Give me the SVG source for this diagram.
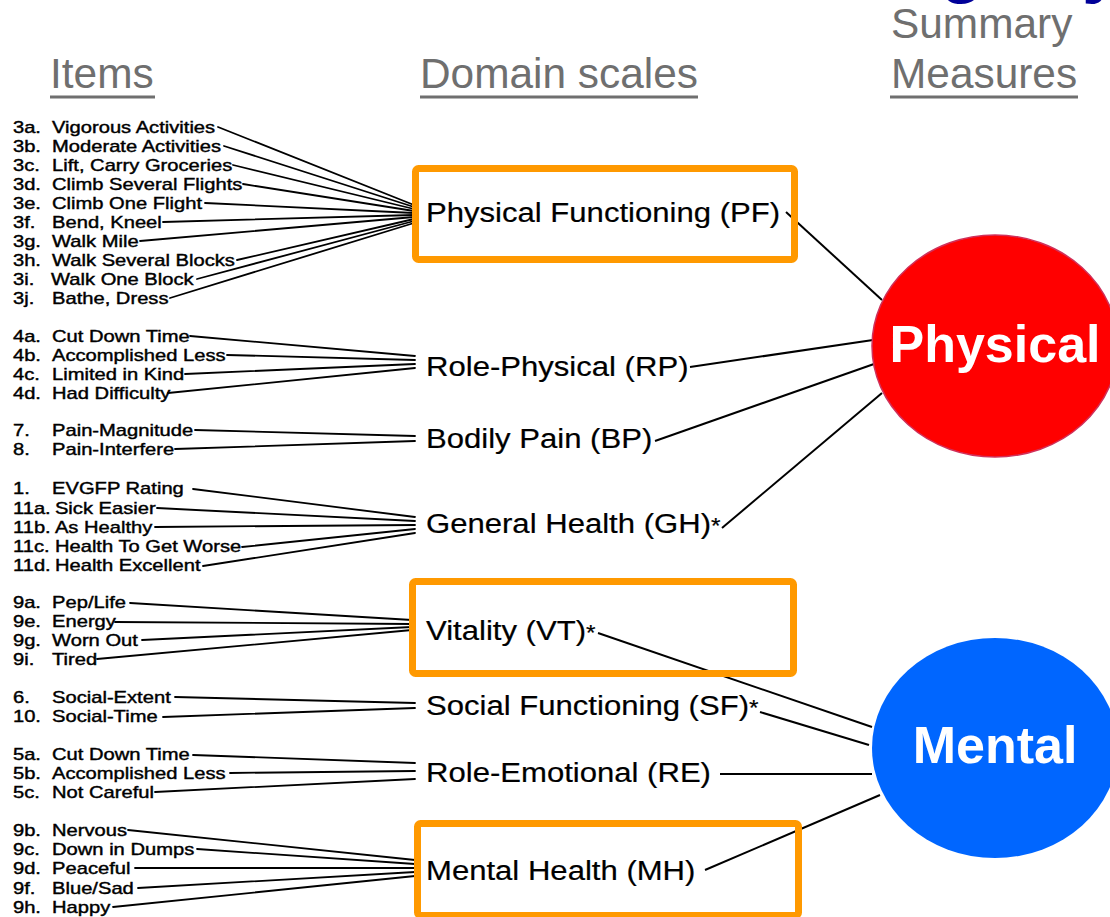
<svg xmlns="http://www.w3.org/2000/svg" width="1110" height="917" viewBox="0 0 1110 917">
<style>
.hdr{font-family:"Liberation Sans",Arial,sans-serif;font-size:42.4px;fill:#6f6f6f}
.ul{stroke:#6f6f6f;stroke-width:3}
.it{font-family:"Liberation Sans",Arial,sans-serif;font-size:16px;fill:#000;stroke:#000;stroke-width:0.4}
.dom{font-family:"Liberation Sans",Arial,sans-serif;font-size:28px;fill:#000;stroke:#000;stroke-width:0.2}
.box{fill:none;stroke:#ff9900;stroke-width:7}
.ln{stroke:#000;stroke-width:1.8;fill:none;stroke-linecap:round}
.lk{stroke:#000;stroke-width:2;fill:none}
.big{font-family:"Liberation Sans",Arial,sans-serif;font-size:52px;font-weight:bold;fill:#fff;text-anchor:middle}
.ttl{font-family:"Liberation Sans",Arial,sans-serif;font-size:72px;font-weight:bold;fill:#000099}
</style>
<rect width="1110" height="917" fill="#fff"/>
<g id="title-fragment">
<text class="ttl" x="940" y="-11">g</text>
<text class="ttl" x="1082" y="-11">y</text>
</g>
<g id="headers">
<text class="hdr" x="50" y="88">Items</text>
<line class="ul" x1="50" y1="97" x2="155" y2="97"/>
<text class="hdr" x="420" y="88">Domain scales</text>
<line class="ul" x1="420" y1="97" x2="698" y2="97"/>
<text class="hdr" x="891" y="38">Summary</text>
<text class="hdr" x="891" y="88">Measures</text>
<line class="ul" x1="890" y1="97" x2="1078" y2="97"/>
</g>
<g id="connectors">
<line class="ln" x1="218" y1="127" x2="414" y2="205"/>
<line class="ln" x1="224" y1="146" x2="414" y2="207"/>
<line class="ln" x1="233" y1="165" x2="414" y2="209"/>
<line class="ln" x1="243" y1="184" x2="414" y2="211"/>
<line class="ln" x1="205" y1="203" x2="414" y2="213"/>
<line class="ln" x1="163" y1="222" x2="414" y2="215"/>
<line class="ln" x1="140" y1="241" x2="414" y2="217"/>
<line class="ln" x1="237" y1="260" x2="414" y2="219"/>
<line class="ln" x1="197" y1="279" x2="414" y2="221"/>
<line class="ln" x1="170" y1="298" x2="414" y2="223"/>
<line class="ln" x1="190" y1="336" x2="415" y2="356"/>
<line class="ln" x1="227" y1="355" x2="415" y2="360"/>
<line class="ln" x1="185" y1="374" x2="415" y2="364"/>
<line class="ln" x1="168" y1="393" x2="415" y2="368"/>
<line class="ln" x1="195" y1="430" x2="415" y2="436"/>
<line class="ln" x1="175" y1="449" x2="415" y2="441"/>
<line class="ln" x1="193" y1="489" x2="415" y2="517"/>
<line class="ln" x1="157" y1="508" x2="415" y2="521"/>
<line class="ln" x1="155" y1="527" x2="415" y2="525"/>
<line class="ln" x1="242" y1="547" x2="415" y2="529"/>
<line class="ln" x1="203" y1="566" x2="415" y2="533"/>
<line class="ln" x1="130" y1="603" x2="412" y2="620"/>
<line class="ln" x1="115" y1="622" x2="412" y2="624"/>
<line class="ln" x1="142" y1="640" x2="412" y2="627"/>
<line class="ln" x1="97" y1="659" x2="412" y2="630"/>
<line class="ln" x1="175" y1="697" x2="415" y2="703"/>
<line class="ln" x1="163" y1="717" x2="415" y2="708"/>
<line class="ln" x1="193" y1="755" x2="415" y2="763"/>
<line class="ln" x1="230" y1="773" x2="415" y2="771"/>
<line class="ln" x1="155" y1="792" x2="415" y2="779"/>
<line class="ln" x1="128" y1="830" x2="415" y2="860"/>
<line class="ln" x1="197" y1="849" x2="415" y2="864"/>
<line class="ln" x1="135" y1="868" x2="415" y2="868"/>
<line class="ln" x1="138" y1="888" x2="415" y2="872"/>
<line class="ln" x1="113" y1="907" x2="415" y2="876"/>
<line class="lk" x1="786" y1="212" x2="882" y2="300"/>
<line class="lk" x1="690" y1="367" x2="873" y2="340"/>
<line class="lk" x1="655" y1="441" x2="874" y2="364"/>
<line class="lk" x1="722" y1="528" x2="882" y2="393"/>
<line class="lk" x1="598" y1="633" x2="872" y2="727"/>
<line class="lk" x1="760" y1="712" x2="869" y2="745"/>
<line class="lk" x1="720" y1="774" x2="872" y2="774"/>
<line class="lk" x1="705" y1="870" x2="880" y2="795"/>
</g>
<g transform="scale(1.26,1)">
<g id="item-3a"><text class="it" x="10.3" y="133">3a.</text><text class="it" x="41.3" y="133">Vigorous Activities</text></g>
<g id="item-3b"><text class="it" x="10.3" y="152">3b.</text><text class="it" x="41.3" y="152">Moderate Activities</text></g>
<g id="item-3c"><text class="it" x="10.3" y="171">3c.</text><text class="it" x="41.3" y="171">Lift, Carry Groceries</text></g>
<g id="item-3d"><text class="it" x="10.3" y="190">3d.</text><text class="it" x="41.3" y="190">Climb Several Flights</text></g>
<g id="item-3e"><text class="it" x="10.3" y="209">3e.</text><text class="it" x="41.3" y="209">Climb One Flight</text></g>
<g id="item-3f"><text class="it" x="10.3" y="228">3f.</text><text class="it" x="41.3" y="228">Bend, Kneel</text></g>
<g id="item-3g"><text class="it" x="10.3" y="247">3g.</text><text class="it" x="41.3" y="247">Walk Mile</text></g>
<g id="item-3h"><text class="it" x="10.3" y="266">3h.</text><text class="it" x="41.3" y="266">Walk Several Blocks</text></g>
<g id="item-3i"><text class="it" x="10.3" y="285">3i.</text><text class="it" x="40.5" y="285">Walk One Block</text></g>
<g id="item-3j"><text class="it" x="10.3" y="304">3j.</text><text class="it" x="41.3" y="304">Bathe, Dress</text></g>
<g id="item-4a"><text class="it" x="10.3" y="342">4a.</text><text class="it" x="41.3" y="342">Cut Down Time</text></g>
<g id="item-4b"><text class="it" x="10.3" y="361">4b.</text><text class="it" x="41.3" y="361">Accomplished Less</text></g>
<g id="item-4c"><text class="it" x="10.3" y="380">4c.</text><text class="it" x="41.3" y="380">Limited in Kind</text></g>
<g id="item-4d"><text class="it" x="10.3" y="399">4d.</text><text class="it" x="41.3" y="399">Had Difficulty</text></g>
<g id="item-7"><text class="it" x="10.3" y="436">7.</text><text class="it" x="41.3" y="436">Pain-Magnitude</text></g>
<g id="item-8"><text class="it" x="10.3" y="455">8.</text><text class="it" x="41.3" y="455">Pain-Interfere</text></g>
<g id="item-1"><text class="it" x="10.3" y="494">1.</text><text class="it" x="41.3" y="494">EVGFP Rating</text></g>
<g id="item-11a"><text class="it" x="10.3" y="514">11a.</text><text class="it" x="43.6" y="514">Sick Easier</text></g>
<g id="item-11b"><text class="it" x="10.3" y="533">11b.</text><text class="it" x="43.6" y="533">As Healthy</text></g>
<g id="item-11c"><text class="it" x="10.3" y="552">11c.</text><text class="it" x="43.6" y="552">Health To Get Worse</text></g>
<g id="item-11d"><text class="it" x="10.3" y="571">11d.</text><text class="it" x="43.6" y="571">Health Excellent</text></g>
<g id="item-9a"><text class="it" x="10.3" y="608">9a.</text><text class="it" x="41.3" y="608">Pep/Life</text></g>
<g id="item-9e"><text class="it" x="10.3" y="627">9e.</text><text class="it" x="41.3" y="627">Energy</text></g>
<g id="item-9g"><text class="it" x="10.3" y="646">9g.</text><text class="it" x="41.3" y="646">Worn Out</text></g>
<g id="item-9i"><text class="it" x="10.3" y="665">9i.</text><text class="it" x="41.3" y="665">Tired</text></g>
<g id="item-6"><text class="it" x="10.3" y="703">6.</text><text class="it" x="41.3" y="703">Social-Extent</text></g>
<g id="item-10"><text class="it" x="10.3" y="722">10.</text><text class="it" x="41.3" y="722">Social-Time</text></g>
<g id="item-5a"><text class="it" x="10.3" y="760">5a.</text><text class="it" x="41.3" y="760">Cut Down Time</text></g>
<g id="item-5b"><text class="it" x="10.3" y="779">5b.</text><text class="it" x="41.3" y="779">Accomplished Less</text></g>
<g id="item-5c"><text class="it" x="10.3" y="798">5c.</text><text class="it" x="41.3" y="798">Not Careful</text></g>
<g id="item-9b"><text class="it" x="10.3" y="836">9b.</text><text class="it" x="41.3" y="836">Nervous</text></g>
<g id="item-9c"><text class="it" x="10.3" y="855">9c.</text><text class="it" x="41.3" y="855">Down in Dumps</text></g>
<g id="item-9d"><text class="it" x="10.3" y="874">9d.</text><text class="it" x="41.3" y="874">Peaceful</text></g>
<g id="item-9f"><text class="it" x="10.3" y="894">9f.</text><text class="it" x="41.3" y="894">Blue/Sad</text></g>
<g id="item-9h"><text class="it" x="10.3" y="913">9h.</text><text class="it" x="41.3" y="913">Happy</text></g>
</g>
<g id="domain-PF"><rect class="box" x="415.5" y="168.5" width="379" height="91" rx="3"/><text class="dom" transform="translate(426,222) scale(1.11,1)">Physical Functioning (PF)</text></g>
<g id="domain-RP"><text class="dom" transform="translate(426,376) scale(1.11,1)">Role-Physical (RP)</text></g>
<g id="domain-BP"><text class="dom" transform="translate(426,448) scale(1.11,1)">Bodily Pain (BP)</text></g>
<g id="domain-GH"><text class="dom" transform="translate(426,533) scale(1.11,1)">General Health (GH)<tspan font-size="22">*</tspan></text></g>
<g id="domain-VT"><rect class="box" x="412.5" y="581.5" width="381" height="92" rx="3"/><text class="dom" transform="translate(426,640) scale(1.11,1)">Vitality (VT)<tspan font-size="22">*</tspan></text></g>
<g id="domain-SF"><text class="dom" transform="translate(426,715) scale(1.11,1)">Social Functioning (SF)<tspan font-size="22">*</tspan></text></g>
<g id="domain-RE"><text class="dom" transform="translate(426,782) scale(1.11,1)">Role-Emotional (RE)</text></g>
<g id="domain-MH"><rect class="box" x="417.5" y="823.5" width="381" height="92" rx="3"/><text class="dom" transform="translate(426,880) scale(1.11,1)">Mental Health (MH)</text></g>
<g id="summary-physical"><ellipse cx="995" cy="346" rx="123" ry="111" fill="#ff0000" stroke="#d0305a" stroke-width="1.5"/><text class="big" x="995" y="362">Physical</text></g>
<g id="summary-mental"><ellipse cx="995" cy="748" rx="123" ry="110" fill="#0066ff"/><text class="big" x="995" y="763">Mental</text></g>
</svg>
